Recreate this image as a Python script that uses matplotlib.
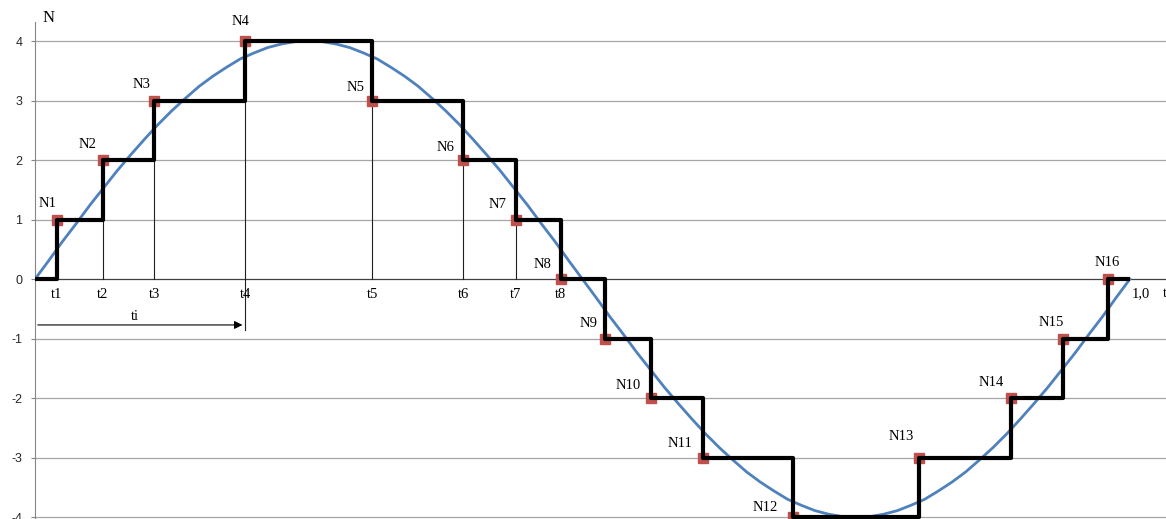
import matplotlib
matplotlib.use('Agg')
from matplotlib import pyplot as plt

# sampling instants and quantised levels
t_points = [0.020, 0.062, 0.109, 0.192, 0.308, 0.391, 0.439, 0.480,
            0.521, 0.563, 0.610, 0.692, 0.807, 0.891, 0.939, 0.980]
n_levels = [1, 2, 3, 4, 3, 2, 1, 0, -1, -2, -3, -4, -3, -2, -1, 0]
n_names = ['N%d' % (i + 1) for i in range(16)]
t_names = ['t1', 't2', 't3', 't4', 't5', 't6', 't7', 't8']

# blue analogue signal, read every 0.0125
signal_x = [i * 0.0125 for i in range(81)]
signal_y = [0, 0.31, 0.63, 0.93, 1.24, 1.53, 1.82, 2.09, 2.35, 2.60,
            2.83, 3.04, 3.24, 3.41, 3.56, 3.70, 3.80, 3.89, 3.95, 3.99,
            4.00, 3.99, 3.95, 3.89, 3.80, 3.70, 3.56, 3.41, 3.24, 3.04,
            2.83, 2.60, 2.35, 2.09, 1.82, 1.53, 1.24, 0.93, 0.63, 0.31,
            0, -0.31, -0.63, -0.93, -1.24, -1.53, -1.82, -2.09, -2.35, -2.60,
            -2.83, -3.04, -3.24, -3.41, -3.56, -3.70, -3.80, -3.89, -3.95, -3.99,
            -4.00, -3.99, -3.95, -3.89, -3.80, -3.70, -3.56, -3.41, -3.24, -3.04,
            -2.83, -2.60, -2.35, -2.09, -1.82, -1.53, -1.24, -0.93, -0.63, -0.31,
            0]
y_ticks = [-4, -3, -2, -1, 0, 1, 2, 3, 4]

# label offsets in pixels for the N labels
label_dx = [-9, -15, -13, -5, -17, -18, -18, -18, -17, -23, -23, -27, -17, -19, -12, -1]
label_dy = [16, 16, 16, 20, 13, 13, 15, 15, 15, 13, 14, 10, 21, 16, 16, 17]

fig = plt.figure(figsize=(11.66, 5.19), dpi=100)
ax = fig.add_axes([35 / 1166, 0, 1131 / 1166, 497 / 519])
ax.set_xlim(0, 1.033)
ax.set_ylim(-4.03, 4.32)

# grid
for y in y_ticks:
    if y != 0:
        ax.axhline(y, color='#a6a6a6', lw=0.9, zorder=1)
ax.axhline(0, color='#404040', lw=0.9, zorder=1)

# signal
ax.plot(signal_x, signal_y, color='#4f81bd', lw=2.0, zorder=3)

# vertical lines for t1..t8
for i, name in enumerate(t_names):
    bottom = -0.86 if name == 't4' else 0
    ax.plot([t_points[i], t_points[i]], [n_levels[i], bottom], color='#202020', lw=0.8, zorder=2)
    ax.text(t_points[i], -0.25, name, ha='center', va='center',
            fontsize=10.5, family='Liberation Serif')

# markers
ax.plot(t_points, n_levels, ls='none', marker='s', ms=7.5, color='#c0504d', zorder=4)

# step function
ax.plot([0] + t_points + [1.0], [0] + n_levels + [0], drawstyle='steps-post',
        color='black', lw=3, zorder=5, solid_capstyle='butt')

for i, name in enumerate(n_names):
    ax.annotate(name, (t_points[i], n_levels[i]), xytext=(label_dx[i] * 0.72, label_dy[i] * 0.72),
                textcoords='offset points', ha='center', va='center',
                fontsize=10.5, family='Liberation Serif', zorder=6)

# ti arrow
ax.annotate('', xy=(t_points[3], -0.77), xytext=(0, -0.77),
            arrowprops=dict(arrowstyle='-|>', color='black', lw=0.8, mutation_scale=12))
ax.text(0.091, -0.62, 'ti', ha='center', va='center', fontsize=10.5, family='Liberation Serif')

ax.text(1.002, -0.24, '1,0', ha='left', va='center', fontsize=10.5, family='Liberation Serif')
ax.text(1.030, -0.24, 't', ha='left', va='center', fontsize=10.5, family='Liberation Serif')
ax.text(0.007, 4.39, 'N', ha='left', va='center', fontsize=12, family='Liberation Serif')

# axes style
for s in ['top', 'right', 'bottom']:
    ax.spines[s].set_visible(False)
ax.spines['left'].set_color('#868686')
ax.set_xticks([])
ax.set_yticks(y_ticks)
ax.set_yticklabels([str(v) for v in y_ticks], family='Liberation Sans', fontsize=9)
ax.tick_params(axis='y', length=3, color='#868686', pad=6, labelcolor='#262626')

plt.savefig('out.png', dpi=100)
